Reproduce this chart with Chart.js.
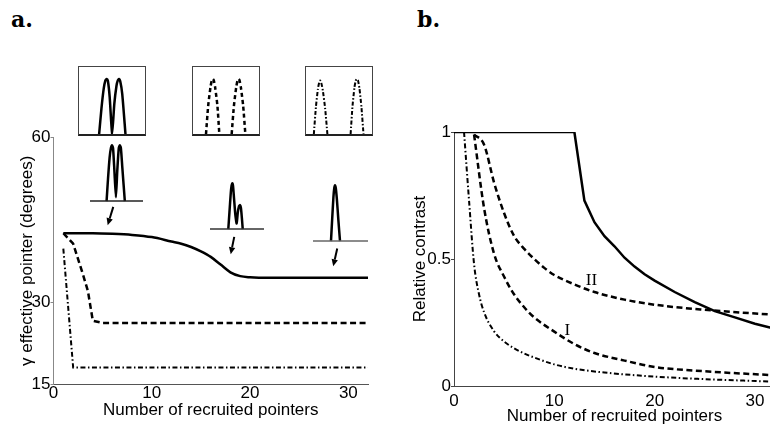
<!DOCTYPE html>
<html>
<head>
<meta charset="utf-8">
<script src="https://cdn.jsdelivr.net/npm/chart.js@4.4.1/dist/chart.umd.min.js"></script>
<style>
  html, body { margin: 0; padding: 0; background: #fff; overflow: hidden; }
  body { width: 770px; height: 425px; position: relative; }
  canvas, .box, .tag { position: absolute; }
  .tag { font-family: 'DejaVu Serif', serif; font-weight: bold; font-size: 22px; line-height: 1; }
  .box { box-sizing: border-box; border: 1px solid #444; border-bottom: 2px solid #222; top: 66px; width: 68px; height: 70px; }
  .box canvas { left: 0; top: 0; }
</style>
</head>
<body>
<div class="tag" style="left:11px; top:8px">a.</div>
<div class="tag" style="left:417px; top:8px">b.</div>

<div class="box" style="left:78px"><canvas id="box1" width="66" height="67"></canvas></div>
<div class="box" style="left:192px"><canvas id="box2" width="66" height="67"></canvas></div>
<div class="box" style="left:305px"><canvas id="box3" width="66" height="67"></canvas></div>

<canvas id="chartA" width="385" height="325" style="left:0; top:100px"></canvas>
<canvas id="chartB" width="400" height="330" style="left:385px; top:100px"></canvas>

<canvas id="insetA" width="53" height="62" style="left:90px; top:143px"></canvas>
<canvas id="insetB" width="54" height="62" style="left:210px; top:171px"></canvas>
<canvas id="insetC" width="55" height="62" style="left:313px; top:183px"></canvas>

<script>
// panel a: gamma of the effective pointer vs number of recruited pointers
var aXTicks = [0, 10, 20, 30];
var aYTicks = [15, 30, 60];
var aSolidX = [1, 4, 6, 8, 10, 12, 13, 14, 15, 16, 17, 18, 19, 20, 22, 32];
var aSolidY = [42.5, 42.5, 42.4, 42.2, 41.8, 41.0, 40.6, 40.0, 39.2, 38.2, 36.8, 35.4, 34.7, 34.5, 34.4, 34.4];
var aDashX = [1, 2, 3, 3.5, 4, 5, 32];
var aDashY = [42.5, 40.6, 35.0, 32.0, 26.6, 26.2, 26.2];
var aDotX = [1, 2, 32];
var aDotY = [39.7, 18.1, 18.1];

// arrows from the small insets down to the solid curve
var arrowX0 = [6.08, 18.39, 28.87];
var arrowY0 = [47.3, 41.84, 39.73];
var arrowX1 = [5.51, 18.03, 28.46];
var arrowY1 = [43.97, 38.69, 36.5];

// panel b: relative contrast
var bXTicks = [0, 10, 20, 30];
var bYTicks = [0, 0.5, 1];
var bSolidX = [0, 12, 13, 14, 15, 16, 17, 18, 19, 20, 22, 24, 26, 28, 30, 32];
var bSolidY = [1, 1, 0.73, 0.645, 0.59, 0.55, 0.505, 0.47, 0.44, 0.415, 0.37, 0.33, 0.295, 0.27, 0.245, 0.225];
var bDashIIX = [2, 3, 4, 5, 6, 7, 8, 9, 10, 12, 14, 17, 20, 25, 32];
var bDashIIY = [0.99, 0.95, 0.80, 0.68, 0.59, 0.54, 0.50, 0.465, 0.437, 0.40, 0.37, 0.34, 0.32, 0.30, 0.28];
var bDashIX = [2, 3, 4, 5, 6, 7, 8, 10, 12, 14, 17, 20, 25, 32];
var bDashIY = [0.99, 0.70, 0.52, 0.43, 0.36, 0.31, 0.27, 0.214, 0.165, 0.13, 0.10, 0.075, 0.058, 0.042];
var bDotX = [1, 1.5, 2, 2.5, 3, 4, 5, 6, 7, 8, 10, 12, 15, 20, 25, 32];
var bDotY = [1.0, 0.73, 0.48, 0.36, 0.29, 0.215, 0.175, 0.148, 0.128, 0.112, 0.085, 0.068, 0.053, 0.037, 0.027, 0.017];
var bLabels = ['II', 'I'];
var bLabelX = [13.7, 11.3];
var bLabelY = [0.417, 0.22];

// boxed insets (x 0-100 across the box, y 0-1 up the box)
var box1X = [30.5, 34, 37.5, 40, 41.9, 43.8, 46.5, 50.2, 53.5, 56.8, 58.8, 60.6, 62.4, 65.5, 70.4];
var box1Y = [0, 0.38, 0.68, 0.8, 0.82, 0.79, 0.55, 0, 0.45, 0.72, 0.8, 0.82, 0.79, 0.6, 0];
var box2X = [19.7, 23, 26.5, 28.5, 30, 31.5, 33.5, 37, 39.9, 49, 58.6, 62, 65.5, 67.5, 69, 70.5, 72.5, 76, 79.3];
var box2Y = [0, 0.42, 0.7, 0.8, 0.82, 0.8, 0.7, 0.42, 0, null, 0, 0.42, 0.7, 0.8, 0.82, 0.8, 0.7, 0.42, 0];
var box3X = [11.9, 15, 18, 20, 21.4, 23, 25.5, 29, 32.4, 50, 67.6, 70.5, 73.5, 75.5, 77.1, 78.8, 81, 84, 87.1];
var box3Y = [0, 0.4, 0.67, 0.77, 0.8, 0.77, 0.65, 0.38, 0, null, 0, 0.42, 0.7, 0.8, 0.82, 0.8, 0.68, 0.4, 0];

// tuning-curve insets above the solid line
var baseX = [0, 100];
var baseY = [0, 0];
var insAX = [31.3, 34, 37, 39.5, 41.5, 43.5, 46, 48.9, 51.5, 54.3, 56.3, 58.3, 61, 65.7];
var insAY = [0, 0.4, 0.78, 0.95, 1, 0.95, 0.55, 0.07, 0.55, 0.95, 1, 0.95, 0.6, 0];
var insBX = [33.9, 36, 38.5, 40, 41.3, 42.6, 44.5, 47, 49.4, 51.5, 53.8, 55.6, 57.3, 59, 60.6];
var insBY = [0, 0.3, 0.65, 0.78, 0.82, 0.78, 0.55, 0.25, 0.1, 0.3, 0.41, 0.43, 0.38, 0.2, 0];
var insCX = [32.7, 34.9, 37.1, 38.7, 40, 41.4, 43.4, 46.1, 49.1];
var insCY = [0, 0.4, 0.78, 0.95, 1, 0.95, 0.75, 0.38, 0];

Chart.defaults.font.family = "'Liberation Sans', Arial, sans-serif";
Chart.defaults.font.size = 17;
Chart.defaults.color = '#000';

var DASH = [6, 3.5];
var DASHDOT = [5, 2.5, 1.5, 2.5];

function line(xs, ys, opts) {
  return Object.assign({
    data: xs.map(function (x, i) { return { x: x, y: ys[i] }; }),
    borderColor: '#000', fill: false, pointRadius: 0, tension: 0, borderWidth: 2.5
  }, opts || {});
}

function axis(min, max, tickList, fit, extra) {
  var s = {
    type: 'linear', min: min, max: max,
    afterBuildTicks: function (sc) { sc.ticks = tickList.map(function (v) { return { value: v }; }); },
    afterFit: fit
  };
  return Object.assign(s, extra);
}

// plain number labels: 0, 0.5, 1 rather than 0.0, 0.5, 1.0
function plain(v) { return String(v); }

var arrowPlugin = {
  id: 'arrows',
  afterDatasetsDraw: function (chart) {
    var ctx = chart.ctx, xs = chart.scales.x, ys = chart.scales.y;
    ctx.save();
    ctx.strokeStyle = '#000';
    ctx.fillStyle = '#000';
    ctx.lineWidth = 2;
    for (var i = 0; i < arrowX0.length; i++) {
      var x0 = xs.getPixelForValue(arrowX0[i]), y0 = ys.getPixelForValue(arrowY0[i]);
      var x1 = xs.getPixelForValue(arrowX1[i]), y1 = ys.getPixelForValue(arrowY1[i]);
      var ang = Math.atan2(y1 - y0, x1 - x0);
      var hl = 7, hw = 3.2;
      var bx = x1 - hl * Math.cos(ang), by = y1 - hl * Math.sin(ang);
      ctx.beginPath();
      ctx.moveTo(x0, y0);
      ctx.lineTo(bx, by);
      ctx.stroke();
      ctx.beginPath();
      ctx.moveTo(x1, y1);
      ctx.lineTo(bx + hw * Math.sin(ang), by - hw * Math.cos(ang));
      ctx.lineTo(bx - hw * Math.sin(ang), by + hw * Math.cos(ang));
      ctx.closePath();
      ctx.fill();
    }
    ctx.restore();
  }
};

var labelPlugin = {
  id: 'curveLabels',
  afterDatasetsDraw: function (chart) {
    var ctx = chart.ctx, xs = chart.scales.x, ys = chart.scales.y;
    ctx.save();
    ctx.font = "17px 'Liberation Serif', 'Times New Roman', serif";
    ctx.fillStyle = '#000';
    ctx.textAlign = 'center';
    ctx.textBaseline = 'middle';
    bLabels.forEach(function (t, i) {
      ctx.fillText(t, xs.getPixelForValue(bLabelX[i]), ys.getPixelForValue(bLabelY[i]));
    });
    ctx.restore();
  }
};

// panel a
new Chart(document.getElementById('chartA'), {
  type: 'line',
  data: { datasets: [
    line(aSolidX, aSolidY, { cubicInterpolationMode: 'monotone' }),
    line(aDashX, aDashY, { borderDash: DASH }),
    line(aDotX, aDotY, { borderWidth: 2, borderDash: DASHDOT })
  ] },
  options: {
    animation: false, responsive: false, events: [],
    layout: { padding: { left: 0, top: 37, right: 17, bottom: 0 } },
    plugins: { legend: { display: false }, tooltip: { enabled: false } },
    scales: {
      x: axis(0, 32, aXTicks, function (s) { s.height = 40.5; }, {
        border: { color: '#555', width: 1 },
        grid: { drawOnChartArea: false, drawTicks: false },
        ticks: { padding: -1, callback: plain },
        title: { display: true, text: 'Number of recruited pointers', padding: { top: 0, bottom: 4 } }
      }),
      y: axis(15, 60, aYTicks, function (s) { s.width = 53.5; }, {
        border: { color: '#888', width: 1 },
        grid: { drawOnChartArea: false, drawTicks: true, tickLength: 3, color: '#888' },
        ticks: { padding: 0, callback: plain },
        title: { display: true, text: 'γ effective pointer (degrees)', padding: { top: 17, bottom: 0 } }
      })
    }
  },
  plugins: [arrowPlugin]
});

// panel b
new Chart(document.getElementById('chartB'), {
  type: 'line',
  data: { datasets: [
    line(bSolidX, bSolidY, { clip: 0 }),
    line(bDashIIX, bDashIIY, { borderDash: DASH, cubicInterpolationMode: 'monotone' }),
    line(bDashIX, bDashIY, { borderDash: DASH, cubicInterpolationMode: 'monotone' }),
    line(bDotX, bDotY, { borderWidth: 2, borderDash: DASHDOT, cubicInterpolationMode: 'monotone' })
  ] },
  options: {
    animation: false, responsive: false, events: [],
    layout: { padding: { left: 0, top: 32, right: 10, bottom: 0 } },
    plugins: { legend: { display: false }, tooltip: { enabled: false } },
    scales: {
      x: axis(0, 32, bXTicks, function (s) { s.height = 44; }, {
        border: { color: '#444', width: 1 },
        grid: { drawOnChartArea: false, drawTicks: false },
        ticks: { padding: 5, callback: plain },
        title: { display: true, text: 'Number of recruited pointers', padding: { top: 0, bottom: 3 } }
      }),
      y: axis(0, 1, bYTicks, function (s) { s.width = 69; }, {
        border: { color: '#444', width: 1 },
        grid: { drawOnChartArea: false, drawTicks: true, tickLength: 3, color: '#444' },
        ticks: { padding: 0, callback: plain },
        title: { display: true, text: 'Relative contrast', padding: { top: 25, bottom: 0 } }
      })
    }
  },
  plugins: [labelPlugin]
});

// small insets
function inset(id, sets, yMin, yMax) {
  new Chart(document.getElementById(id), {
    type: 'line',
    data: { datasets: sets },
    options: {
      animation: false, responsive: false, events: [],
      layout: { padding: 0 },
      plugins: { legend: { display: false }, tooltip: { enabled: false } },
      scales: {
        x: { type: 'linear', min: 0, max: 100, display: false },
        y: { min: yMin, max: yMax, display: false }
      }
    }
  });
}

inset('box1', [line(box1X, box1Y, { tension: 0.2, clip: false })], 0, 1);
inset('box2', [line(box2X, box2Y, { tension: 0.2, clip: false, borderDash: [4, 3] })], 0, 1);
inset('box3', [line(box3X, box3Y, { tension: 0.2, clip: false, borderWidth: 2, borderDash: [4, 2, 1.5, 2] })], 0, 1);

inset('insetA', [
  line(baseX, baseY, { borderWidth: 1.5, borderColor: '#222' }),
  line(insAX, insAY, { tension: 0.2, clip: false })
], -0.07, 1.04);
inset('insetB', [
  line(baseX, baseY, { borderWidth: 1.5, borderColor: '#333' }),
  line(insBX, insBY, { tension: 0.2, clip: false })
], -0.07, 1.04);
inset('insetC', [
  line(baseX, baseY, { borderWidth: 1.5, borderColor: '#666' }),
  line(insCX, insCY, { tension: 0.2, clip: false })
], -0.07, 1.04);
</script>
</body>
</html>
